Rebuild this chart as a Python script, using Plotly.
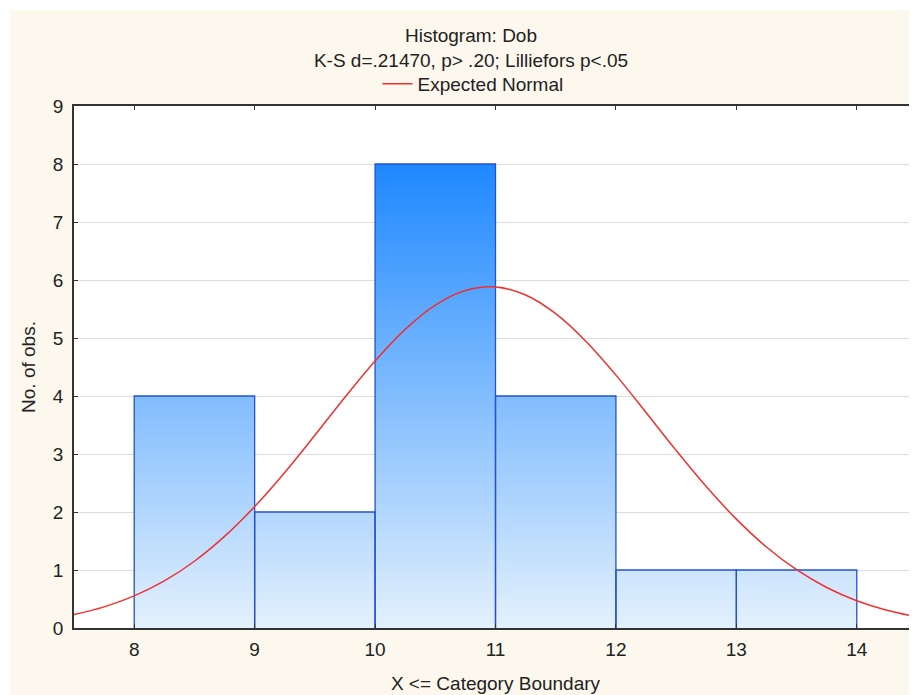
import plotly.graph_objects as go

# Histogram data (X <= category boundary)
bin_edges = [8, 9, 10, 11, 12, 13, 14]
counts = [4, 2, 8, 4, 1, 1]

# Expected normal curve
curve_x = [7.5, 7.75, 8.0, 8.25, 8.5, 8.75, 9.0, 9.25, 9.5, 9.75, 10.0, 10.25, 10.5, 10.75,
           11.0, 11.25, 11.5, 11.75, 12.0, 12.25, 12.5, 12.75, 13.0, 13.25, 13.5, 13.75,
           14.0, 14.25, 14.5]
curve_y = [0.232, 0.364, 0.553, 0.811, 1.151, 1.579, 2.093, 2.682, 3.322, 3.978, 4.603, 5.149,
           5.568, 5.819, 5.879, 5.741, 5.419, 4.944, 4.360, 3.716, 3.062, 2.439, 1.877, 1.397,
           1.005, 0.699, 0.470, 0.305, 0.191]

x_ticks = [8, 9, 10, 11, 12, 13, 14]
y_ticks = list(range(0, 10))

BG = "#FDF8EE"
EDGE = "#2251D1"

# gradient-filled histogram silhouette
fill_x = list(bin_edges)
fill_y = list(counts) + [counts[-1]]

# bar outlines
out_x, out_y = [], []
for i, c in enumerate(counts):
    l, r = bin_edges[i], bin_edges[i + 1]
    out_x += [l, l, r, r, None]
    out_y += [0, c, c, 0, None]

fig = go.Figure()
fig.add_trace(go.Scatter(
    x=fill_x, y=fill_y, mode="lines", line=dict(width=0, shape="hv"),
    fill="tozeroy",
    fillgradient=dict(type="vertical", start=0, stop=8,
                      colorscale=[[0, "#E4F1FD"], [1, "#1E88FF"]]),
    showlegend=False, hoverinfo="skip"))
fig.add_trace(go.Scatter(
    x=out_x, y=out_y, mode="lines", line=dict(color=EDGE, width=1.3),
    showlegend=False, hoverinfo="skip"))
fig.add_trace(go.Scatter(
    x=curve_x, y=curve_y, mode="lines", name="Expected Normal",
    line=dict(color="#F03030", width=1.5, shape="spline")))

FS = 19
font = dict(family="Liberation Sans, Arial, sans-serif", size=FS, color="#222222")

W, H = 909, 687
pw, ph = 843, 522
fig.update_layout(
    width=W, height=H,
    margin=dict(l=66, r=0, t=98, b=67, autoexpand=False),
    paper_bgcolor=BG, plot_bgcolor="white",
    font=font,
    title=dict(text="Histogram: Dob<br>K-S d=.21470, p> .20; Lilliefors p<.05",
               x=463 / W, xanchor="center", y=1 - 34 / H, yanchor="top",
               font=font),
    legend=dict(orientation="h", xref="container", yref="container",
                x=465 / W, xanchor="center", y=1 - 57 / H, yanchor="top",
                bgcolor="rgba(0,0,0,0)", font=font),
    xaxis=dict(range=[7.5, 14.5], tickvals=x_ticks, showgrid=False, zeroline=False,
               showline=True, linecolor="#333333", linewidth=1.5, mirror="ticks",
               ticks="inside", ticklen=4, tickcolor="#333333", tickfont=font,
               ticklabelstandoff=3,
               title=dict(text="X <= Category Boundary", standoff=18, font=font)),
    yaxis=dict(range=[0, 9], tickvals=y_ticks, showgrid=True, gridcolor="#DDDDDD",
               zeroline=False, showline=True, linecolor="#333333", linewidth=1.5,
               mirror="ticks", ticks="inside", ticklen=4, tickcolor="#333333",
               tickfont=font, ticklabelstandoff=5,
               title=dict(text="No. of obs.", standoff=12, font=font)),
    shapes=[
        dict(type="rect", xref="paper", yref="paper", x0=-70 / pw, x1=1.02,
             y0=1 + 96 / ph, y1=1 + 102 / ph, fillcolor="white", line_width=0),
        dict(type="rect", xref="paper", yref="paper", x0=-70 / pw, x1=-64 / pw,
             y0=-80 / ph, y1=1 + 102 / ph, fillcolor="white", line_width=0),
    ],
)

fig.write_html("out.html")
